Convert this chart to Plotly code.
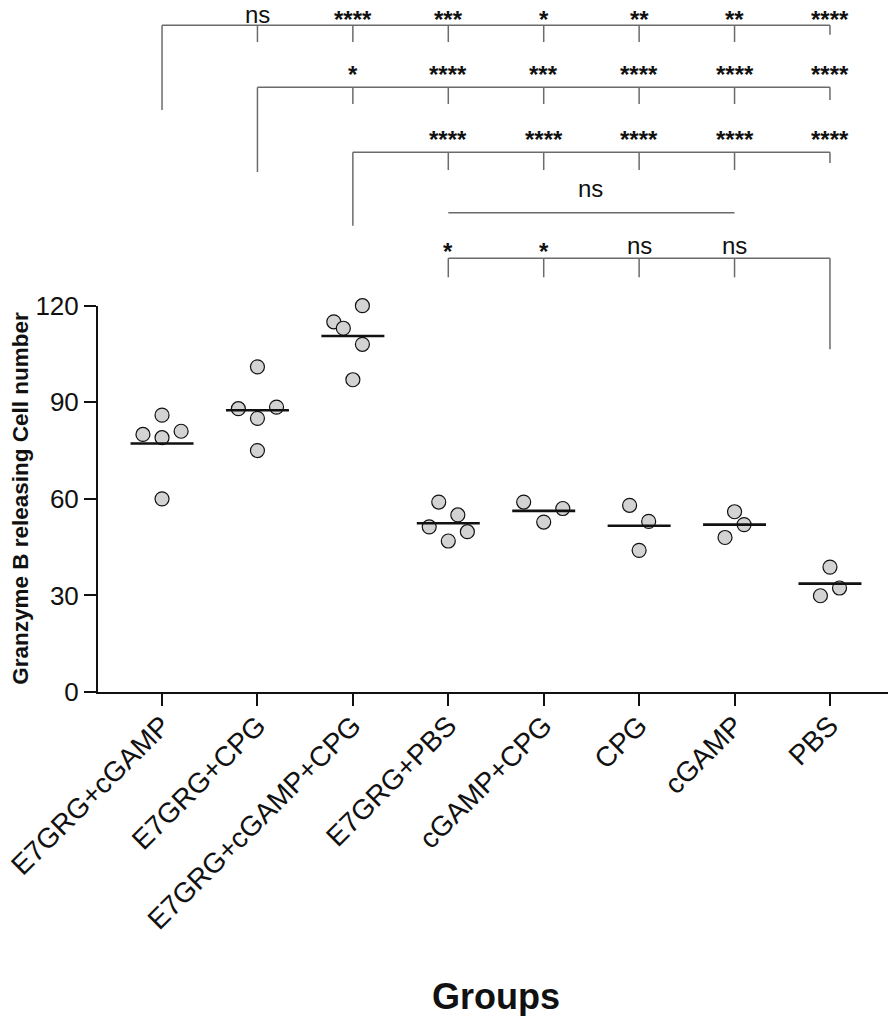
import numpy as np
import plotly.graph_objects as go

# ---------------- data ----------------
groups = ["E7GRG+cGAMP", "E7GRG+CPG", "E7GRG+cGAMP+CPG", "E7GRG+PBS",
          "cGAMP+CPG", "CPG", "cGAMP", "PBS"]
g_e7_cgamp = [86, 80, 79, 81, 60]
g_e7_cpg = [101, 88, 85, 88.5, 75]
g_e7_cgamp_cpg = [120, 115, 113, 108, 97]
g_e7_pbs = [59, 55, 51.3, 49.8, 46.9]
g_cgamp_cpg = [59, 57, 52.8]
g_cpg = [58, 53, 44]
g_cgamp = [56, 52, 48]
g_pbs = [38.8, 32.3, 29.9]
values = [g_e7_cgamp, g_e7_cpg, g_e7_cgamp_cpg, g_e7_pbs,
          g_cgamp_cpg, g_cpg, g_cgamp, g_pbs]
y_ticks = [0, 30, 60, 90, 120]

# significance labels (reference group -> target groups)
row1_labels = ["ns", "****", "***", "*", "**", "**", "****"]   # grp 0 vs 1..7
row2_labels = ["*", "****", "***", "****", "****", "****"]     # grp 1 vs 2..7
row3_labels = ["****", "****", "****", "****", "****"]         # grp 2 vs 3..7
mid_label = "ns"                                               # grp 3 .. 6
row5_labels = ["*", "*", "ns", "ns"]                           # grp 7 vs 3..6

# ---------------- styling / layout constants ----------------
jitter = [
    [0, -0.2, 0, 0.2, 0],
    [0, -0.2, 0, 0.2, 0],
    [0.1, -0.2, -0.1, 0.1, 0],
    [-0.1, 0.1, -0.2, 0.2, 0],
    [-0.21, 0.2, 0],
    [-0.1, 0.1, 0],
    [0, 0.1, -0.1],
    [0, 0.1, -0.1],
]
FONT = "Liberation Sans, Arial, Helvetica, sans-serif"
INK = "#111111"
W, H = 896, 1016
OFF = 8                        # page offset of the figure (body margin)
ML, MR, MT = 98 - OFF, 10, 0
PLOT_BOTTOM = 692 - OFF        # figure px of value 0
MB = H - PLOT_BOTTOM
PX = (692 - 305.7) / 120.0     # pixels per value unit
Y2_TOP = (PLOT_BOTTOM - MT) / PX
XR = [-0.671, 7.671]
BR_COLOR = "#6b6b6b"


def v_at(page_y):
    """value on the y scale that sits at a given page pixel row"""
    return (692 - page_y) / PX


fig = go.Figure()

# points
xs, ys = [], []
for i, (vals, jit) in enumerate(zip(values, jitter)):
    for v, j in zip(vals, jit):
        xs.append(i + j)
        ys.append(v)
fig.add_trace(go.Scatter(
    x=xs, y=ys, mode="markers", cliponaxis=False,
    marker=dict(size=14, color="#d3d3d3", line=dict(color=INK, width=1.2)),
    showlegend=False, hoverinfo="y"))

# mean lines
mx, my = [], []
for i, vals in enumerate(values):
    m = float(np.mean(vals))
    mx += [i - 0.33, i + 0.33, None]
    my += [m, m, None]
fig.add_trace(go.Scatter(x=mx, y=my, mode="lines", cliponaxis=False,
                         line=dict(color=INK, width=2.6),
                         showlegend=False, hoverinfo="skip"))

# brackets (on overlay axis y2 with the same value scale)
bx, by = [], []
annotations = []


def seg(x0, y0, x1, y1):
    bx.extend([x0, x1, None])
    by.extend([y0, y1, None])


def label(x, page_y, text):
    star = text.startswith("*")
    annotations.append(dict(
        x=x, y=v_at(page_y), xref="x", yref="y2",
        text=f"<b>{text}</b>" if star else text, showarrow=False,
        xanchor="center", yanchor="middle",
        font=dict(family=FONT, size=24, color=INK)))


def fan_row(anchor, targets, labels, level_py, anchor_drop, tick_drop, end_drop,
            star_off, ns_off, end_side):
    lvl = v_at(level_py)
    xs_all = [anchor] + targets
    seg(min(xs_all), lvl, max(xs_all), lvl)
    seg(anchor, lvl, anchor, v_at(anchor_drop))
    for k, t in enumerate(targets):
        drop = end_drop if t == end_side else tick_drop
        seg(t, lvl, t, v_at(drop))
        lab = labels[k]
        if lab.startswith("*"):
            cy = level_py - star_off + 5.5
        else:
            cy = level_py - ns_off - 2.0
        label(t, cy, lab)


fan_row(0, [1, 2, 3, 4, 5, 6, 7], row1_labels, 25.3, 110, 42, 34.7, 11.8, 9.3, 7)
fan_row(1, [2, 3, 4, 5, 6, 7], row2_labels, 87.3, 172, 104, 100, 18, 18, 7)
fan_row(2, [3, 4, 5, 6, 7], row3_labels, 152.3, 225.7, 170, 163, 18, 18, 7)
fan_row(7, [3, 4, 5, 6], row5_labels, 258.3, 349.3, 277.3, 277.3, 12.3, 11.3, 3)

# middle "ns" line (E7GRG+PBS .. cGAMP)
seg(3, v_at(212.7), 6, v_at(212.7))
label(4.49, 212.7 - 22 - 2.0, mid_label)

fig.add_trace(go.Scatter(x=bx, y=by, xaxis="x", yaxis="y2", mode="lines",
                         cliponaxis=False,
                         line=dict(color=BR_COLOR, width=1.5),
                         showlegend=False, hoverinfo="skip"))

plot_w = W - ML - MR
plot_h = PLOT_BOTTOM - MT
# axis titles
annotations.append(dict(
    text="<b>Granzyme B releasing Cell number</b>", textangle=-90,
    xref="paper", yref="paper", x=-(ML - (21 - OFF)) / plot_w,
    y=(120 / Y2_TOP) / 2,
    xanchor="center", yanchor="middle", showarrow=False,
    font=dict(family=FONT, size=22.5, color=INK)))
annotations.append(dict(
    text="<b>Groups</b>", xref="paper", yref="paper",
    x=0.5, y=-(996 - 692) / plot_h,
    xanchor="center", yanchor="middle", showarrow=False,
    font=dict(family=FONT, size=36, color=INK)))

fig.update_layout(
    width=W, height=H,
    margin=dict(l=ML, r=MR, t=MT, b=MB, autoexpand=False),
    paper_bgcolor="white", plot_bgcolor="rgba(0,0,0,0)",
    showlegend=False,
    font=dict(family=FONT, color=INK),
    xaxis=dict(
        range=XR, tickmode="array", tickvals=list(range(len(groups))), ticktext=groups,
        tickangle=-45, tickfont=dict(family=FONT, size=28, color=INK),
        ticklabelstandoff=-8, ticklabeloverflow="allow",
        showline=True, linecolor=INK, linewidth=2,
        ticks="outside", ticklen=12, tickwidth=2, tickcolor=INK,
        showgrid=False, zeroline=False, anchor="y", fixedrange=True, automargin=False),
    yaxis=dict(
        domain=[0, 120 / Y2_TOP], range=[0, 120], tickmode="array", tickvals=y_ticks,
        tickfont=dict(family=FONT, size=26, color=INK),
        showline=True, linecolor=INK, linewidth=2,
        ticks="outside", ticklen=12, tickwidth=2, tickcolor=INK,
        showgrid=False, zeroline=False, anchor="x", fixedrange=True, automargin=False),
    yaxis2=dict(
        domain=[0, 1], range=[0, Y2_TOP], anchor="x", visible=False,
        showgrid=False, zeroline=False, fixedrange=True, automargin=False),
    annotations=annotations,
)

fig.write_html("out.html")
